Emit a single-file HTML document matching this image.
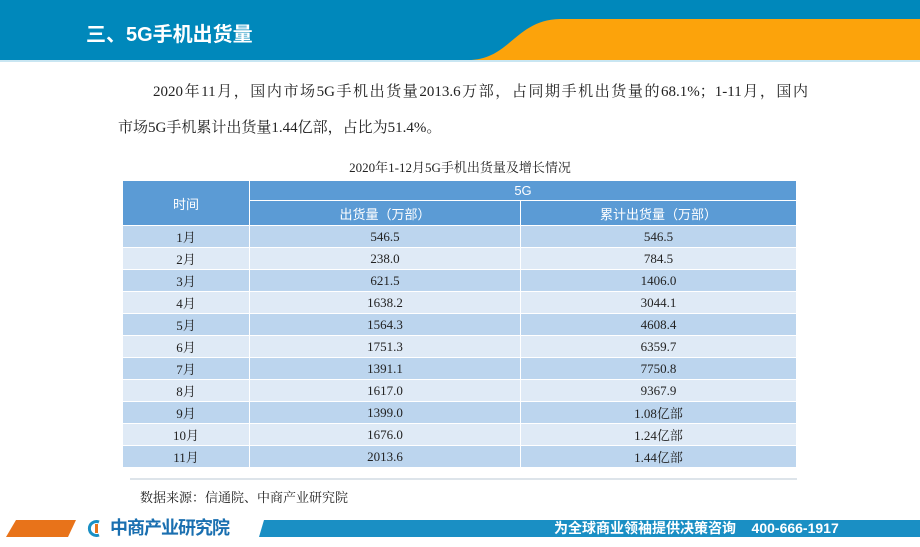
<!DOCTYPE html>
<html><head><meta charset="utf-8"><style>
body{margin:0;width:920px;height:547px;overflow:hidden;background:#fff;position:relative;font-family:"Liberation Serif","Noto Serif CJK SC",serif;}
.abs{position:absolute;}
table{border-collapse:collapse;position:absolute;left:122px;top:180px;width:675px;font-size:13px;color:#222;}
td{border:1px solid #fff;text-align:center;padding:0;height:21px;}
.h td{background:#5b9bd5;color:#fff;font-family:"Liberation Sans","Noto Sans CJK SC",sans-serif;}
.ln{position:absolute;font-size:15px;white-space:nowrap;color:#222;text-align:justify;text-align-last:justify;}
</style></head><body>
<div class="abs" style="left:0;top:0;width:920px;height:60px;background:#0088bb;"></div>
<svg class="abs" style="left:0;top:0" width="920" height="64">
<path d="M468 60 C510 60 515 20 560 19 L920 19 L920 60 Z" fill="#fca30b"/>
<rect x="0" y="60" width="920" height="2" fill="#c9e6f2"/>
</svg>
<div class="abs" style="left:86px;top:18px;color:#fff;font-size:20px;font-weight:bold;font-family:'Liberation Sans','Noto Sans CJK SC',sans-serif;">三、5G手机出货量</div>
<div class="ln" style="left:153px;top:80px;width:655px;">2020年11月，国内市场5G手机出货量2013.6万部，占同期手机出货量的68.1%；1-11月，国内</div>
<div class="ln" style="left:118px;top:116px;text-align-last:left;">市场5G手机累计出货量1.44亿部，占比为51.4%。</div>
<div class="abs" style="left:0;width:920px;top:157px;text-align:center;font-size:13px;color:#222;">2020年1-12月5G手机出货量及增长情况</div>
<table>
<tr class="h"><td rowspan="2" style="width:126px">时间</td><td colspan="2" style="height:19px">5G</td></tr>
<tr class="h"><td style="width:270px;height:24px">出货量（万部）</td><td>累计出货量（万部）</td></tr>
<tbody id="tb"></tbody>
</table>
<div class="abs" style="left:130px;top:478px;width:667px;height:2px;background:#dde4ea;"></div>
<div class="abs" style="left:140px;top:487px;font-size:13px;color:#222;">数据来源：信通院、中商产业研究院</div>
<svg class="abs" style="left:0;top:519px" width="920" height="20">
<polygon points="6,18 16,1 76,1 68,18" fill="#e8731a"/>
<polygon points="259,18 264,1 920,1 920,18" fill="#1a8fc4"/>
<path d="M99 3 A7 7 0 1 0 99 16" fill="none" stroke="#1a8fc4" stroke-width="3"/>
<rect x="95" y="5" width="3" height="9" fill="#e8731a"/>
</svg>
<div class="abs" style="left:110px;top:518px;font-size:18px;line-height:21px;font-weight:bold;color:#1a6fb0;font-family:'Liberation Sans','Noto Sans CJK SC',sans-serif;letter-spacing:-1px;">中商产业研究院</div>
<div class="abs" style="left:554px;top:519px;font-size:14px;line-height:18px;font-weight:bold;color:#fff;font-family:'Liberation Sans','Noto Sans CJK SC',sans-serif;">为全球商业领袖提供决策咨询&nbsp;&nbsp;&nbsp;&nbsp;400-666-1917</div>
<script>
const months=["1月","2月","3月","4月","5月","6月","7月","8月","9月","10月","11月"];
const shipments=["546.5","238.0","621.5","1638.2","1564.3","1751.3","1391.1","1617.0","1399.0","1676.0","2013.6"];
const cumulative=["546.5","784.5","1406.0","3044.1","4608.4","6359.7","7750.8","9367.9","1.08亿部","1.24亿部","1.44亿部"];
const tb=document.getElementById('tb');
months.forEach((m,i)=>{
  const tr=document.createElement('tr');
  
  
  tr.style.background=i%2===0?'#bcd5ee':'#dfeaf6';
  [m,shipments[i],cumulative[i]].forEach((v,j)=>{
    const td=document.createElement('td');
    
    
    td.textContent=v;tr.appendChild(td);
  });
  tb.appendChild(tr);
});
</script>
</body></html>
